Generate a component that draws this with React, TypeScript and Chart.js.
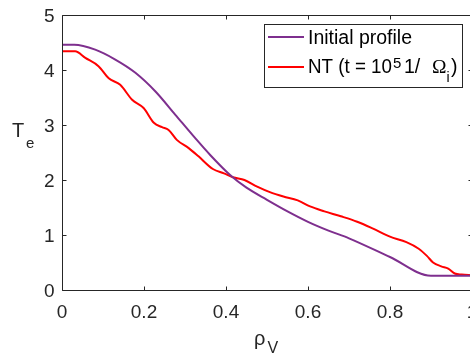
import React, { useEffect, useRef } from "react";
import { Chart, registerables } from "chart.js";

Chart.register(...registerables);

// ---- data ----
const rhoInitial = [0, 0.03, 0.081, 0.13, 0.179, 0.228, 0.276, 0.325, 0.362, 0.41, 0.45, 0.5, 0.55, 0.6, 0.65, 0.7, 0.8, 0.9, 1.0];
const teInitial = [4.46, 4.46, 4.37, 4.19, 3.95, 3.61, 3.19, 2.76, 2.45, 2.09, 1.86, 1.64, 1.43, 1.24, 1.08, 0.94, 0.6, 0.26, 0.26];

const rhoNT = [0, 0.032, 0.057, 0.089, 0.114, 0.142, 0.171, 0.199, 0.224, 0.244, 0.26, 0.28, 0.309, 0.333, 0.368, 0.395, 0.417, 0.445, 0.476, 0.507, 0.54, 0.575, 0.605, 0.64, 0.68, 0.72, 0.76, 0.8, 0.84, 0.87, 0.89, 0.905, 0.925, 0.942, 0.958, 0.975, 1.0];
const teNT = [4.34, 4.34, 4.22, 4.07, 3.85, 3.73, 3.46, 3.31, 3.04, 2.96, 2.91, 2.73, 2.58, 2.43, 2.2, 2.12, 2.05, 2.0, 1.88, 1.78, 1.7, 1.63, 1.52, 1.43, 1.34, 1.24, 1.11, 0.97, 0.87, 0.75, 0.62, 0.5, 0.43, 0.39, 0.3, 0.28, 0.27];

const xTicks = [0, 0.2, 0.4, 0.6, 0.8, 1];
const xTickLabels = ["0", "0.2", "0.4", "0.6", "0.8", "1"];
const yTicks = [0, 1, 2, 3, 4, 5];
const yTickLabels = ["0", "1", "2", "3", "4", "5"];
const seriesNames = ["Initial profile", "NT"];
const yTitle = ["T", "e"];
const xTitle = ["ρ", "V"];

const AXIS_COLOR = "#262626";
const SANS = "'Liberation Sans', Arial, Helvetica, sans-serif";
const SERIF = "'Liberation Serif', 'Times New Roman', serif";

const framePlugin = {
  id: "frame",
  afterDatasetsDraw(chart: any) {
    const { ctx, chartArea } = chart;
    const xs = chart.scales.x;
    const ys = chart.scales.y;
    const L = Math.round(chartArea.left) + 0.5;
    const R = Math.round(chartArea.right) + 0.5;
    const T = Math.round(chartArea.top) + 0.5;
    const B = Math.round(chartArea.bottom) + 0.5;
    ctx.save();
    ctx.strokeStyle = AXIS_COLOR;
    ctx.lineWidth = 1;
    ctx.beginPath();
    ctx.moveTo(L, T);
    ctx.lineTo(R, T);
    ctx.lineTo(R, B);
    ctx.lineTo(L, B);
    ctx.closePath();
    ctx.stroke();
    const tl = 4;
    ctx.beginPath();
    xTicks.forEach((v) => {
      const p = Math.round(xs.getPixelForValue(v)) + 0.5;
      ctx.moveTo(p, B);
      ctx.lineTo(p, B - tl);
      ctx.moveTo(p, T);
      ctx.lineTo(p, T + tl);
    });
    yTicks.forEach((v) => {
      const p = Math.round(ys.getPixelForValue(v)) + 0.5;
      ctx.moveTo(L, p);
      ctx.lineTo(L + tl, p);
      ctx.moveTo(R, p);
      ctx.lineTo(R - tl, p);
    });
    ctx.stroke();

    // tick labels
    ctx.fillStyle = AXIS_COLOR;
    ctx.textBaseline = "alphabetic";
    ctx.font = `19px ${SANS}`;
    ctx.textAlign = "center";
    xTicks.forEach((v, i) => {
      ctx.fillText(xTickLabels[i], xs.getPixelForValue(v), B + 27);
    });
    ctx.textAlign = "right";
    yTicks.forEach((v, i) => {
      ctx.fillText(yTickLabels[i], L - 8, ys.getPixelForValue(v) + 7);
    });

    // axis titles with subscripts
    ctx.textAlign = "left";
    ctx.font = `20px ${SANS}`;
    ctx.fillText(yTitle[0], 12, 137);
    ctx.font = `15px ${SANS}`;
    ctx.fillText(yTitle[1], 26, 148);

    ctx.font = `20px ${SANS}`;
    ctx.fillText(xTitle[0], 254, 345);
    const w = ctx.measureText(xTitle[0]).width;
    ctx.font = `16px ${SANS}`;
    ctx.fillText(xTitle[1], 254 + w + 2, 353);
    ctx.restore();
  },
};

const legendPlugin = {
  id: "customLegend",
  afterDraw(chart: any) {
    const { ctx } = chart;
    const ds = chart.data.datasets;
    ctx.save();
    ctx.fillStyle = "#ffffff";
    ctx.fillRect(264.5, 24.5, 198, 63);
    ctx.strokeStyle = AXIS_COLOR;
    ctx.lineWidth = 1;
    ctx.strokeRect(264.5, 24.5, 198, 63);

    const rows = [37, 67];
    ds.forEach((d: any, i: number) => {
      ctx.strokeStyle = d.borderColor;
      ctx.lineWidth = 2;
      ctx.beginPath();
      ctx.moveTo(268, rows[i]);
      ctx.lineTo(304, rows[i]);
      ctx.stroke();
    });

    ctx.fillStyle = "#000000";
    ctx.textAlign = "left";
    ctx.textBaseline = "alphabetic";
    ctx.font = `19.5px ${SANS}`;
    ctx.fillText(seriesNames[0], 308, 44);

    // NT (t = 10^5 1/  Ω_i)
    const base = 73;
    ctx.font = `19.5px ${SANS}`;
    ctx.fillText(seriesNames[1] + " (t = 10", 308, base, 84);
    ctx.font = `15px ${SANS}`;
    ctx.fillText("5", 393, base - 5);
    ctx.font = `19.5px ${SANS}`;
    ctx.fillText("1/", 404, base);
    ctx.font = `19.5px ${SERIF}`;
    ctx.fillText("Ω", 432, base);
    ctx.font = `14px ${SANS}`;
    ctx.fillText("i", 446.5, base + 9);
    ctx.font = `19.5px ${SANS}`;
    ctx.fillText(")", 451, base);
    ctx.restore();
  },
};

export default function App() {
  const ref = useRef<HTMLCanvasElement | null>(null);
  useEffect(() => {
    if (!ref.current) return;
    const chart = new Chart(ref.current, {
      type: "line",
      data: {
        datasets: [
          {
            label: seriesNames[0],
            data: rhoInitial.map((x, i) => ({ x, y: teInitial[i] })),
            borderColor: "#7E2F8E",
            borderWidth: 2,
            pointRadius: 0,
            cubicInterpolationMode: "monotone",
            fill: false,
          },
          {
            label: seriesNames[1],
            data: rhoNT.map((x, i) => ({ x, y: teNT[i] })),
            borderColor: "#FF0000",
            borderWidth: 2,
            pointRadius: 0,
            cubicInterpolationMode: "monotone",
            fill: false,
          },
        ],
      },
      options: {
        animation: false,
        responsive: false,
        devicePixelRatio: 1,
        layout: { padding: { left: 0, top: 15, right: 8, bottom: 0 } },
        plugins: {
          legend: { display: false },
          tooltip: { enabled: false },
        },
        scales: {
          x: {
            type: "linear",
            min: 0,
            max: 1,
            grid: { display: false, drawTicks: false },
            border: { display: false },
            ticks: { display: false },
            afterFit: (s: any) => {
              s.height = 68;
            },
          },
          y: {
            type: "linear",
            min: 0,
            max: 5,
            grid: { display: false, drawTicks: false },
            border: { display: false },
            ticks: { display: false },
            afterFit: (s: any) => {
              s.width = 62;
            },
          },
        },
      },
      plugins: [framePlugin, legendPlugin],
    });
    return () => chart.destroy();
  }, []);

  return (
    <div
      style={{
        position: "fixed",
        left: 0,
        top: 0,
        width: 470,
        height: 358,
        overflow: "hidden",
        background: "#ffffff",
      }}
    >
      <canvas ref={ref} width={480} height={358} />
    </div>
  );
}
